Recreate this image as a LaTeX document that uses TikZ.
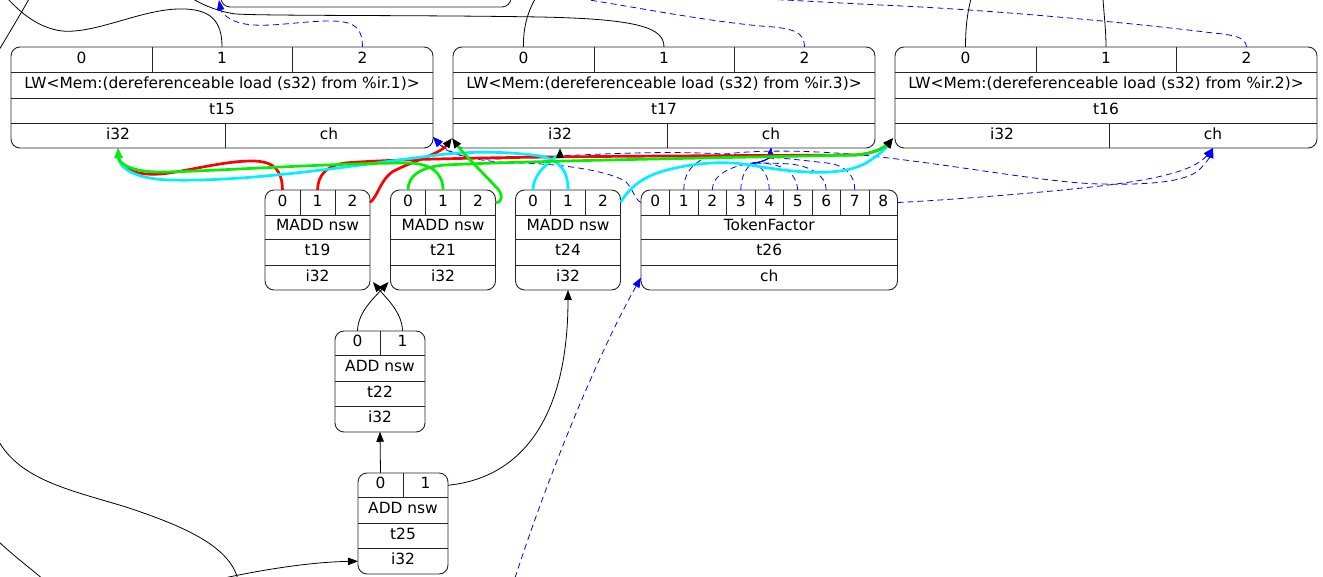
\documentclass[tikz,border=0pt]{standalone}
\usepackage{fontspec}
\setmainfont{DejaVu Sans}
\usetikzlibrary{arrows.meta}
\definecolor{edgered}{RGB}{255,0,0}
\definecolor{edgegreen}{RGB}{0,240,0}
\definecolor{edgecyan}{RGB}{0,240,255}
\definecolor{chainblue}{RGB}{0,0,255}

% Load record: name, left x, ir number, id
\newcommand\loadrec[4]{%
  \node[box, minimum width=422pt, minimum height=101pt] (#1) at (#2,47) {};
  \draw[rule] (#2,72) -- ++(422,0) (#2,98) -- ++(422,0) (#2,123) -- ++(422,0)
     (#2+141,47) -- ++(0,25) (#2+281,47) -- ++(0,25) (#2+214,123) -- ++(0,25);
  \node[cell, minimum width=141pt] (#1-p0) at (#2+70.5,59.5) {0};
  \node[cell, minimum width=140pt] (#1-p1) at (#2+211,59.5) {1};
  \node[cell, minimum width=141pt] (#1-p2) at (#2+351.5,59.5) {2};
  \node[cell, minimum width=422pt] (#1-op) at (#2+211,85) {LW<Mem:(dereferenceable load (s32) from \%ir.#3)>};
  \node[cell, minimum width=422pt] (#1-id) at (#2+211,110.5) {#4};
  \node[cell, minimum width=214pt] (#1-i32) at (#2+107,135.5) {i32};
  \node[cell, minimum width=208pt] (#1-ch) at (#2+318,135.5) {ch};
}

% Three-operand record: name, left x, id
\newcommand\maddrec[3]{%
  \node[box, minimum width=105pt, minimum height=100pt] (#1) at (#2,190) {};
  \draw[rule] (#2,215) -- ++(105,0) (#2,239.5) -- ++(105,0) (#2,265) -- ++(105,0)
     (#2+35,190) -- ++(0,25) (#2+70,190) -- ++(0,25);
  \node[cell, minimum width=35pt] (#1-p0) at (#2+17.5,202.5) {0};
  \node[cell, minimum width=35pt] (#1-p1) at (#2+52.5,202.5) {1};
  \node[cell, minimum width=35pt] (#1-p2) at (#2+87.5,202.5) {2};
  \node[cell, minimum width=105pt] (#1-op) at (#2+52.5,227.25) {MADD nsw};
  \node[cell, minimum width=105pt] (#1-id) at (#2+52.5,252.25) {#3};
  \node[cell, minimum width=105pt] (#1-ty) at (#2+52.5,277.5) {i32};
}

% Two-operand record: name, left x, top y, id
\newcommand\addrec[4]{%
  \node[box, minimum width=90pt, minimum height=101pt] (#1) at (#2,#3) {};
  \draw[rule] (#2,#3+24.5) -- ++(90,0) (#2,#3+50) -- ++(90,0) (#2,#3+75.5) -- ++(90,0)
     (#2+45,#3) -- ++(0,24.5);
  \node[cell, minimum width=45pt] (#1-p0) at (#2+22.5,#3+12.25) {0};
  \node[cell, minimum width=45pt] (#1-p1) at (#2+67.5,#3+12.25) {1};
  \node[cell, minimum width=90pt] (#1-op) at (#2+45,#3+37.25) {ADD nsw};
  \node[cell, minimum width=90pt] (#1-id) at (#2+45,#3+62.75) {#4};
  \node[cell, minimum width=90pt] (#1-ty) at (#2+45,#3+88.25) {i32};
}

\begin{document}
\begin{tikzpicture}[x=1pt,y=-1pt,
  box/.style={draw=black!85, line width=0.9pt, rounded corners=9pt, inner sep=0pt, outer sep=0pt, anchor=north west},
  rule/.style={draw=black!85, line width=0.9pt},
  cell/.style={inner sep=0pt, outer sep=0pt, minimum height=25pt, text height=10.7pt, text depth=3.5pt, font=\fontsize{15.4}{18}\selectfont},
  wire/.style={black, line width=0.8pt},
  chain/.style={chainblue, line width=0.8pt, dash pattern=on 6pt off 4pt},
  fat/.style={line width=2.7pt},
  tip/.style={-{Triangle[length=10pt,width=7.5pt]}},
  tipk/.style={-{Triangle[length=10pt,width=7.5pt,color=black]}},
]
\useasboundingbox (0,0) rectangle (1323,577);
\clip (0,0) rectangle (1323,577);

% ---------- records ----------
\node[box, anchor=south west, minimum width=290pt, minimum height=60pt] (upper) at (221,7) {};
\loadrec{t15}{11}{1}{t15}
\loadrec{t17}{453}{3}{t17}
\loadrec{t16}{895}{2}{t16}
\maddrec{t19}{265}{t19}
\maddrec{t21}{390.5}{t21}
\maddrec{t24}{515.5}{t24}
\addrec{t22}{335}{331}{t22}
\addrec{t25}{358}{473}{t25}

\node[box, minimum width=256.5pt, minimum height=100pt] (t26) at (641,190) {};
\draw[rule] (641,215) -- ++(256.5,0) (641,239.5) -- ++(256.5,0) (641,265) -- ++(256.5,0);
\foreach \k in {1,...,8} \draw[rule] (641+28.5*\k,190) -- ++(0,25);
\foreach \k in {0,...,8} \node[cell, minimum width=28.5pt] (t26-p\k) at (655.25+28.5*\k,202.5) {\k};
\node[cell, minimum width=256.5pt] (t26-op) at (769.25,227.25) {TokenFactor};
\node[cell, minimum width=256.5pt] (t26-id) at (769.25,252.25) {t26};
\node[cell, minimum width=256.5pt] (t26-ty) at (769.25,277.5) {ch};

% ---------- corner attachment points ----------
\coordinate (t15-cc) at ([shift={(0,-11)}]t15.south east);
\coordinate (t17-cc) at ([shift={(-1,-10)}]t17.south west);
\coordinate (t16-cc) at ([shift={(-2,-10)}]t16.south west);
\coordinate (t21-cc) at ([shift={(-2,-8)}]t21.south west);
\coordinate (t19-cc) at ([shift={(3,-8)}]t19.south east);
\coordinate (tfjoin) at (753,163);

% ---------- free ends leaving the view ----------
\coordinate (x1) at (8,-1);
\coordinate (x2) at (29,-1);
\coordinate (x2b) at (-1,50);
\coordinate (x3) at (193,-1);
\coordinate (x4) at (535,-1);
\coordinate (x5) at (971,-1);
\coordinate (x6) at (1103,-1);
\coordinate (x7) at (583,-1);
\coordinate (x8) at (760,-1);
\coordinate (chainup) at (219,0);
\coordinate (x9) at (215,580);
\coordinate (x10) at (-2,440);
\coordinate (x11) at (238,580);
\coordinate (x12) at (-2,541);
\coordinate (x13) at (44,580);
\coordinate (x14) at (515,578);

% ---------- value edges (upper) ----------
\draw[wire] (t15-p1.north) .. controls (222,22) and (212,8) .. (178,9)
  .. controls (140,10) and (95,34) .. (62,31) .. controls (38,28) and (20,12) .. (x1);
\draw[wire] (x2) .. controls (20,15) and (8,35) .. (x2b);
\draw[wire] (t17-p1.north) .. controls (664,28) and (640,19) .. (540,17)
  .. controls (420,15) and (270,16) .. (236,14) .. controls (220,12) and (205,6) .. (x3);
\draw[wire] (t17-p0.north) .. controls (523,25) and (529,10) .. (x4);
\draw[wire] (t16-p0.north) .. controls (965.5,25) and (968,10) .. (x5);
\draw[wire] (t16-p1.north) .. controls (1106,30) and (1104,15) .. (x6);

% ---------- chain edges (upper) ----------
\draw[chain, tip] (t15-p2.north) .. controls (362,30) and (358,21) .. (330,21)
  .. controls (300,21) and (268,28) .. (245,24) .. controls (228,21) and (221,12) .. (chainup);
\draw[chain] (t17-p2.north) .. controls (804,32) and (795,28) .. (760,26)
  .. controls (700,20) and (640,8) .. (x7);
\draw[chain] (t16-p2.north) .. controls (1246,38) and (1236,35) .. (1213,33)
  .. controls (1150,25) and (1000,10) .. (880,5) .. controls (820,2) and (790,0) .. (x8);

% ---------- chain edges into the loads ----------
\draw[chain, tip] (t26-p0.west) .. controls (635,200) and (632,187) .. (625,181)
  .. controls (605,170) and (560,164) .. (520,163) .. controls (480,162) and (452,156) .. (t15-cc);
\draw[chain, tip] (t26-p7.north) .. controls (855,175) and (845,165) .. (827,163)
  .. controls (800,160) and (760,155) .. (700,153) .. controls (640,151) and (560,156) .. (500,159)
  .. controls (470,160) and (448,154) .. (t15-cc);
\draw[chain, tip] (t26-p1.north) .. controls (684,175) and (690,165) .. (705,158)
  .. controls (740,148) and (820,150) .. (880,157) .. controls (960,166) and (1050,183) .. (1100,184)
  .. controls (1150,185) and (1185,182) .. (1199,170) .. controls (1205,164) and (1210,157) .. (t16-ch.south);
\draw[chain, tip] (t26-p8.east) .. controls (950,200) and (1050,192) .. (1100,186)
  .. controls (1160,179) and (1195,170) .. (t16-ch.south);
\draw[chain, tip] (t26-p2.north) .. controls (712.5,175) and (730,166) .. (tfjoin)
  .. controls (765,162) and (770,157) .. (t17-ch.south);
\draw[chain, tip] (t26-p3.north) .. controls (741,178) and (745,168) .. (tfjoin)
  .. controls (765,162) and (770,157) .. (t17-ch.south);
\draw[chain, tip] (t26-p4.north) .. controls (769,175) and (762,167) .. (tfjoin)
  .. controls (765,162) and (770,157) .. (t17-ch.south);
\draw[chain, tip] (t26-p5.north) .. controls (797,175) and (785,166) .. (770,164)
  .. controls (762,163) and (757,163) .. (tfjoin) .. controls (765,162) and (770,157) .. (t17-ch.south);
\draw[chain, tip] (t26-p6.north) .. controls (826,175) and (810,166) .. (790,164)
  .. controls (775,163) and (760,163) .. (tfjoin) .. controls (765,162) and (770,157) .. (t17-ch.south);
\draw[chain, tip] (x14) .. controls (550,470) and (600,350) .. (t26-ty.west);

% ---------- operand edges of t19 ----------
\draw[fat, edgered, tip] (t19-p0.north) .. controls (282,172) and (276,161) .. (252,161)
  .. controls (222,161) and (185,172) .. (160,174) .. controls (132,176) and (119,166) .. (t15-i32.south);
\draw[fat, edgered, tipk] (t19-p1.north) .. controls (318,176) and (325,166) .. (345,163)
  .. controls (430,156) and (700,156) .. (855,155) .. controls (875,154) and (886,146) .. (t16-cc);
\draw[fat, edgered, tipk] (t19-p2.east) .. controls (378,196) and (380,181) .. (392,172)
  .. controls (410,162) and (440,154) .. (t17-cc);

% ---------- operand edges of t24 ----------
\draw[fat, edgecyan, tipk] (t24-p0.north) .. controls (533,175) and (546,165) .. (553,159)
  .. controls (558,155) and (560,153) .. (t17-i32.south);
\draw[fat, edgecyan, tip] (t24-p1.north) .. controls (568,171) and (560,160) .. (540,156)
  .. controls (505,151) and (465,151) .. (430,156) .. controls (350,166) and (250,182) .. (170,180)
  .. controls (135,179) and (119,168) .. (t15-i32.south);
\draw[fat, edgecyan, tipk] (t24-p2.east) .. controls (628,190) and (640,177) .. (667,170)
  .. controls (690,164) and (720,160) .. (750,165) .. controls (790,172) and (840,178) .. (866,163)
  .. controls (878,156) and (886,148) .. (t16-cc);

% ---------- operand edges of t21 ----------
\draw[fat, edgegreen, tipk] (t21-p0.north) .. controls (408,176) and (420,167) .. (445,165)
  .. controls (520,161) and (760,157) .. (855,155) .. controls (875,154) and (886,146) .. (t16-cc);
\draw[fat, edgegreen, tip] (t21-p1.north) .. controls (443,172) and (430,164) .. (410,163)
  .. controls (330,163) and (200,172) .. (160,172) .. controls (132,172) and (119,164) .. (t15-i32.south);
\draw[fat, edgegreen, tipk] (t21-p2.east) .. controls (503,203) and (503,194) .. (497,188)
  .. controls (480,170) and (462,152) .. (t17-cc);

% ---------- lower value edges ----------
\draw[wire, tip] (t22-p0.north) .. controls (358,312) and (374,298) .. (t21-cc);
\draw[wire, tip] (t22-p1.north) .. controls (402,312) and (386,298) .. (t19-cc);
\draw[wire, tip] (t25-p0.north) -- (t22-ty.south);
\draw[wire, tip] (t25-p1.east) .. controls (520,478) and (568,420) .. (t24-ty.south);
\draw[wire, tip] (x9) .. controls (260,570) and (310,562) .. (t25-ty.west);
\draw[wire] (x10) .. controls (20,480) and (70,490) .. (126,507)
  .. controls (180,525) and (230,545) .. (x11);
\draw[wire] (x12) .. controls (15,557) and (30,568) .. (x13);
\end{tikzpicture}
\end{document}
